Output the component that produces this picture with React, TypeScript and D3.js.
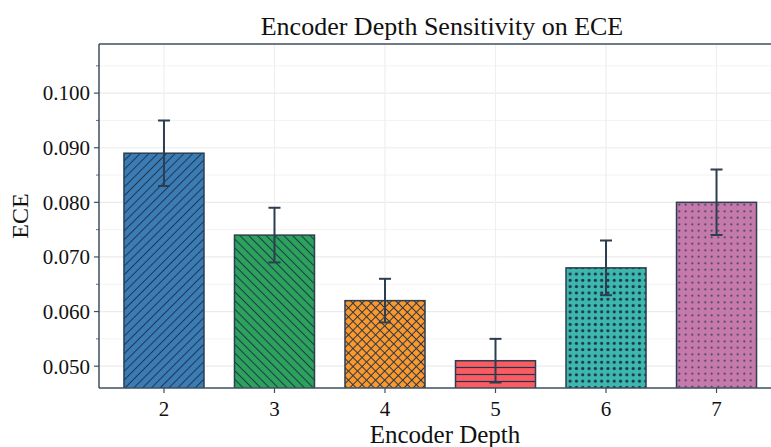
import React from "react";
import * as d3 from "d3";

const categories = ["2", "3", "4", "5", "6", "7"];
const values = [0.089, 0.074, 0.062, 0.051, 0.068, 0.08];
const errors = [0.006, 0.005, 0.004, 0.004, 0.005, 0.006];
const yTicks = [0.05, 0.06, 0.07, 0.08, 0.09, 0.1];
const yMinorTicks = [0.055, 0.065, 0.075, 0.085, 0.095, 0.105];
const barColors = ["#3b7cb5", "#2ca25a", "#fd982b", "#fb5c62", "#3db8ad", "#c679ab"];
const hatches = ["diag", "backdiag", "cross", "horiz", "bigdots", "smalldots"];

const W = 771;
const H = 447;
const M = { left: 99, top: 44, bottom: 388, right: 781.5 };
const INK = "#2c3e50";
const FONT = "'Liberation Serif', 'Times New Roman', serif";

function Pattern({ id, kind, color }: { id: string; kind: string; color: string }) {
  const hc = "#1e3550";
  if (kind === "diag" || kind === "backdiag") {
    const p = 6.2;
    return (
      <pattern id={id} patternUnits="userSpaceOnUse" width={p} height={p} patternTransform={`rotate(${kind === "diag" ? 45 : -45})`}>
        <rect width={p} height={p} fill={color} />
        <line x1={p / 2} y1={0} x2={p / 2} y2={p} stroke={hc} strokeWidth={1} />
      </pattern>
    );
  }
  if (kind === "cross") {
    const p = 6.4;
    return (
      <pattern id={id} patternUnits="userSpaceOnUse" width={p} height={p} patternTransform="rotate(45)">
        <rect width={p} height={p} fill={color} />
        <line x1={p / 2} y1={0} x2={p / 2} y2={p} stroke={hc} strokeWidth={1} />
        <line x1={0} y1={p / 2} x2={p} y2={p / 2} stroke={hc} strokeWidth={1} />
      </pattern>
    );
  }
  if (kind === "horiz") {
    const p = 7;
    return (
      <pattern id={id} patternUnits="userSpaceOnUse" width={p} height={p}>
        <rect width={p} height={p} fill={color} />
        <line x1={0} y1={p / 2} x2={p} y2={p / 2} stroke={hc} strokeWidth={1.2} />
      </pattern>
    );
  }
  if (kind === "bigdots") {
    const p = 6.3;
    return (
      <pattern id={id} patternUnits="userSpaceOnUse" width={p} height={p}>
        <rect width={p} height={p} fill={color} />
        <circle cx={p / 2} cy={p / 2} r={1.6} fill={hc} />
      </pattern>
    );
  }
  const p = 6.5;
  return (
    <pattern id={id} patternUnits="userSpaceOnUse" width={p} height={p}>
      <rect width={p} height={p} fill={color} />
      <circle cx={p / 2} cy={p / 2} r={0.95} fill={hc} />
    </pattern>
  );
}

export default function App() {
  const x = d3.scaleLinear().domain([-0.588, categories.length - 1 + 0.588]).range([M.left, M.right]);
  const y = d3.scaleLinear().domain([0.046, 0.109]).range([M.bottom, M.top]);
  const barW = 0.724 * (x(1) - x(0));
  const fmt = d3.format(".3f");

  return (
    <svg width={W} height={H} style={{ position: "absolute", left: 0, top: 0, background: "#fff" }}>
      <defs>
        {categories.map((c, i) => (
          <Pattern key={c} id={`pat${i}`} kind={hatches[i]} color={barColors[i]} />
        ))}
        <clipPath id="plotclip">
          <rect x={M.left} y={M.top} width={M.right - M.left} height={M.bottom - M.top} />
        </clipPath>
      </defs>
      <text x={442} y={35} textAnchor="middle" fontFamily={FONT} fontSize={26} fill="#111">
        Encoder Depth Sensitivity on ECE
      </text>
      <g clipPath="url(#plotclip)">
        {yMinorTicks.map((t) => (
          <line key={"m" + t} x1={M.left} x2={M.right} y1={y(t)} y2={y(t)} stroke="#f3f3f3" strokeWidth={1} />
        ))}
        {yTicks.map((t) => (
          <line key={"g" + t} x1={M.left} x2={M.right} y1={y(t)} y2={y(t)} stroke="#ebebeb" strokeWidth={1.2} />
        ))}
        {categories.map((c, i) => (
          <line key={"v" + c} x1={x(i)} x2={x(i)} y1={M.top} y2={M.bottom} stroke="#efefef" strokeWidth={1.2} />
        ))}
        {categories.map((c, i) => (
          <rect
            key={"b" + c}
            x={x(i) - barW / 2}
            y={y(values[i])}
            width={barW}
            height={M.bottom - y(values[i]) + 5}
            fill={`url(#pat${i})`}
            stroke={INK}
            strokeWidth={1.5}
          />
        ))}
        {categories.map((c, i) => {
          const cx = x(i);
          const y1 = y(values[i] + errors[i]);
          const y2 = y(values[i] - errors[i]);
          return (
            <g key={"e" + c} stroke={INK} strokeWidth={2}>
              <line x1={cx} x2={cx} y1={y1} y2={y2} />
              <line x1={cx - 6} x2={cx + 6} y1={y1} y2={y1} />
              <line x1={cx - 6} x2={cx + 6} y1={y2} y2={y2} />
            </g>
          );
        })}
      </g>
      {/* spines */}
      <line x1={M.left} x2={M.right} y1={M.top} y2={M.top} stroke="#3d4f60" strokeWidth={1.5} />
      <line x1={M.left} x2={M.right} y1={M.bottom} y2={M.bottom} stroke="#3d4f60" strokeWidth={1.5} />
      <line x1={M.left} x2={M.left} y1={M.top} y2={M.bottom} stroke="#3d4f60" strokeWidth={1.5} />
      {/* y ticks */}
      {yTicks.map((t) => (
        <g key={"yt" + t}>
          <line x1={M.left - 5} x2={M.left} y1={y(t)} y2={y(t)} stroke="#3d4f60" strokeWidth={1.2} />
          <text x={M.left - 9} y={y(t)} dy="0.35em" textAnchor="end" fontFamily={FONT} fontSize={21} fill="#111">
            {fmt(t)}
          </text>
        </g>
      ))}
      {yMinorTicks.map((t) => (
        <line key={"ymt" + t} x1={M.left - 3} x2={M.left} y1={y(t)} y2={y(t)} stroke="#3d4f60" strokeWidth={0.8} />
      ))}
      {/* x ticks */}
      {categories.map((c, i) => (
        <g key={"xt" + c}>
          <line x1={x(i)} x2={x(i)} y1={M.bottom} y2={M.bottom + 5} stroke="#3d4f60" strokeWidth={1.2} />
          <text x={x(i)} y={M.bottom + 28} textAnchor="middle" fontFamily={FONT} fontSize={21} fill="#111">
            {c}
          </text>
        </g>
      ))}
      <text x={445} y={443} textAnchor="middle" fontFamily={FONT} fontSize={25} fill="#111">
        Encoder Depth
      </text>
      <text
        transform={`translate(28, ${(M.top + M.bottom) / 2}) rotate(-90)`}
        textAnchor="middle"
        fontFamily={FONT}
        fontSize={24}
        fill="#111"
      >
        ECE
      </text>
    </svg>
  );
}
